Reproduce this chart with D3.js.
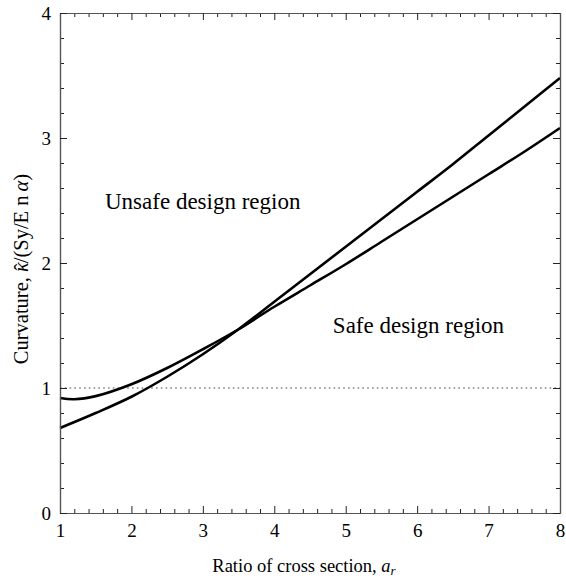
<!DOCTYPE html>
<html>
<head>
<meta charset="utf-8">
<script src="https://cdn.jsdelivr.net/npm/d3@7/dist/d3.min.js"></script>
<style>
  html, body { margin: 0; padding: 0; background: #fff; }
  svg { display: block; }
  text { font-family: "Liberation Serif", "Tinos", "Times New Roman", serif; fill: #000; }
</style>
</head>
<body>
<svg id="chart" width="566" height="581"></svg>
<script>
// Ratio of cross section (x) and normalised curvature for the two limit curves
const ratioA = [1, 1.2, 1.5, 2, 2.5, 3, 3.5, 4, 4.5, 5, 5.5, 6, 6.5, 7, 7.5, 8];
const curvA  = [0.92, 0.91, 0.935, 1.03, 1.16, 1.31, 1.47, 1.65, 1.82, 1.99, 2.17, 2.35, 2.53, 2.71, 2.89, 3.08];

const ratioB = [1, 1.5, 2, 2.5, 3, 3.5, 4, 4.5, 5, 5.5, 6, 6.5, 7, 7.5, 8];
const curvB  = [0.68, 0.80, 0.93, 1.09, 1.27, 1.47, 1.69, 1.91, 2.13, 2.35, 2.57, 2.79, 3.02, 3.25, 3.48];

const referenceLevel = 1;

const xTicks = [1, 2, 3, 4, 5, 6, 7, 8];
const yTicks = [0, 1, 2, 3, 4];

const regionLabels = [
  { text: "Unsafe design region", x: 1.63, y: 2.43 },
  { text: "Safe design region",   x: 4.82, y: 1.44 }
];

const svg = d3.select("#chart");
const margin = { left: 60, right: 6, top: 13, bottom: 68 };
const W = 566, H = 581;

const x = d3.scaleLinear().domain([1, 8]).range([margin.left, W - margin.right]);
const y = d3.scaleLinear().domain([0, 4]).range([H - margin.bottom, margin.top]);

const x0 = x.range()[0], x1 = x.range()[1];
const y0 = y.range()[0], y1 = y.range()[1];

// Dotted reference level
svg.append("line")
  .attr("x1", x0).attr("x2", x1)
  .attr("y1", y(referenceLevel)).attr("y2", y(referenceLevel))
  .attr("stroke", "#444").attr("stroke-width", 1)
  .attr("stroke-dasharray", "1.6,3.2");

// Curves
const line = d3.line().curve(d3.curveCatmullRom.alpha(0.5)).x(d => x(d[0])).y(d => y(d[1]));
const seriesA = ratioA.map((r, i) => [r, curvA[i]]);
const seriesB = ratioB.map((r, i) => [r, curvB[i]]);
[seriesA, seriesB].forEach(s => {
  svg.append("path").datum(s)
    .attr("d", line)
    .attr("fill", "none")
    .attr("stroke", "#000")
    .attr("stroke-width", 2.6)
    .attr("stroke-linejoin", "round");
});

// Axes with inward ticks on all four sides
const xMinor = d3.range(1, 8.0001, 0.2).filter(v => Math.abs(v - Math.round(v)) > 1e-6);
const yMinor = d3.range(0, 4.0001, 0.2).filter(v => Math.abs(v - Math.round(v)) > 1e-6);

function tickAxis(axisGen, transform, scale, majors, minors, showLabels) {
  const gMinor = svg.append("g").attr("transform", transform)
    .call(axisGen(scale).tickValues(minors).tickSizeInner(-4).tickSizeOuter(0).tickFormat(""));
  const gMajor = svg.append("g").attr("transform", transform)
    .call(axisGen(scale).tickValues(majors).tickSizeInner(-7).tickSizeOuter(0)
      .tickFormat(showLabels ? d3.format("d") : ""));
  [gMinor, gMajor].forEach(g => {
    g.selectAll("path.domain").attr("stroke", "#555").attr("stroke-width", 1.2);
    g.selectAll(".tick line").attr("stroke", "#222").attr("stroke-width", 1);
  });
  return gMajor;
}

const gx = tickAxis(d3.axisBottom, `translate(0,${y0})`, x, xTicks, xMinor, true);
gx.selectAll(".tick text")
  .attr("font-size", 19)
  .attr("y", 11).attr("dy", "0.71em");
tickAxis(d3.axisTop, `translate(0,${y1})`, x, xTicks, xMinor, false);

const gy = tickAxis(d3.axisLeft, `translate(${x0},0)`, y, yTicks, yMinor, true);
gy.selectAll(".tick text")
  .attr("font-size", 19)
  .attr("x", -9).attr("dy", "0.34em");
tickAxis(d3.axisRight, `translate(${x1},0)`, y, yTicks, yMinor, false);

// Region labels
regionLabels.forEach(l => {
  svg.append("text")
    .attr("x", x(l.x)).attr("y", y(l.y))
    .attr("font-size", 23)
    .text(l.text);
});

// X axis title
const xt = svg.append("text")
  .attr("x", 304).attr("y", 572)
  .attr("text-anchor", "middle")
  .attr("font-size", 18.5);
xt.append("tspan").text("Ratio of cross section, ");
xt.append("tspan").attr("font-style", "italic").text("a");
xt.append("tspan").attr("font-style", "italic").attr("font-size", 13).attr("dy", 3).text("r");

// Y axis title: curvature with a hat over kappa
const yt = svg.append("text")
  .attr("transform", `translate(28,269) rotate(-90)`)
  .attr("text-anchor", "middle")
  .attr("font-size", 20.5);
yt.append("tspan").text("Curvature, ");
yt.append("tspan").attr("font-style", "italic").text("\u03BA");
yt.append("tspan").attr("dx", -8.5).attr("dy", 1).text("\u02C6");
yt.append("tspan").attr("dx", 0.5).attr("dy", -1).text("/(Sy/E n\u2009");
yt.append("tspan").attr("font-style", "italic").text("\u03B1");
yt.append("tspan").text(")");
</script>
</body>
</html>
